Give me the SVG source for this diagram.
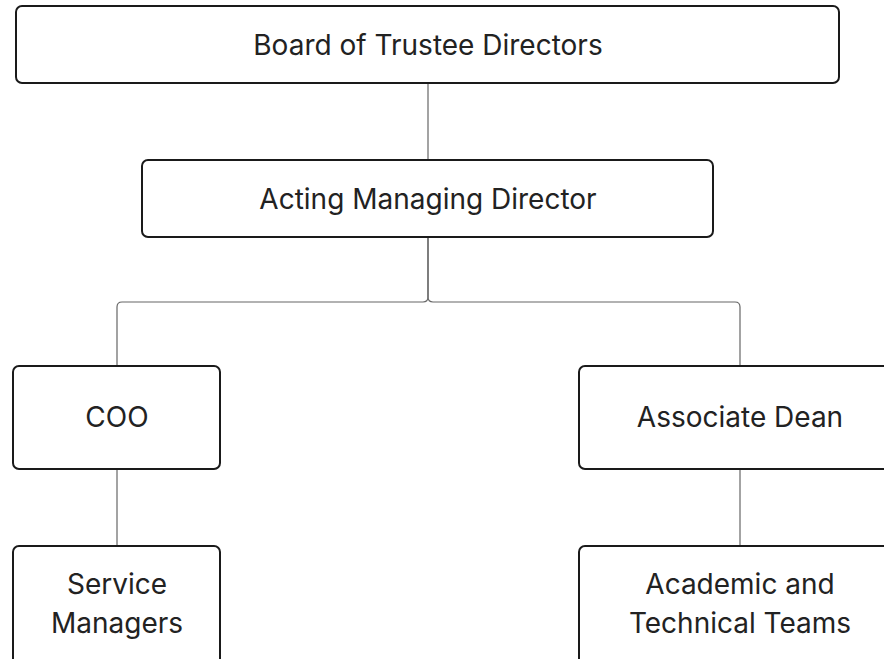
<svg xmlns="http://www.w3.org/2000/svg" width="884" height="659" viewBox="0 0 884 659">
<style>
.box{fill:#fff;stroke:#1a1a1a;stroke-width:2}
.lbl{font-family:Inter,"Liberation Sans",sans-serif;font-size:28px;fill:#222;text-anchor:middle}
.conn{fill:none;stroke:#666;stroke-width:1.2}
</style>
<rect width="884" height="659" fill="#fff"/>
<g id="connectors">
<path class="conn" d="M428,83 V160"/>
<path class="conn" d="M428,237 V297 Q428,302 423,302 H122 Q117,302 117,307 V366"/>
<path class="conn" d="M428,237 V297 Q428,302 433,302 H735 Q740,302 740,307 V366"/>
<path class="conn" d="M117,469 V546"/>
<path class="conn" d="M740,469 V546"/>
</g>
<g id="board">
<rect class="box" x="16" y="6" width="823" height="77" rx="6"/>
<text class="lbl" x="428" y="55">Board of Trustee Directors</text>
</g>
<g id="acting">
<rect class="box" x="142" y="160" width="571" height="77" rx="6"/>
<text class="lbl" x="428" y="209">Acting Managing Director</text>
</g>
<g id="coo">
<rect class="box" x="13" y="366" width="207" height="103" rx="6"/>
<text class="lbl" x="117" y="427">COO</text>
</g>
<g id="dean">
<rect class="box" x="579" y="366" width="322" height="103" rx="6"/>
<text class="lbl" x="740" y="427">Associate Dean</text>
</g>
<g id="service">
<rect class="box" x="13" y="546" width="207" height="130" rx="6"/>
<text class="lbl" x="117" y="594">Service</text>
<text class="lbl" x="117" y="633">Managers</text>
</g>
<g id="academic">
<rect class="box" x="579" y="546" width="322" height="130" rx="6"/>
<text class="lbl" x="740" y="594">Academic and</text>
<text class="lbl" x="740" y="633">Technical Teams</text>
</g>
</svg>
